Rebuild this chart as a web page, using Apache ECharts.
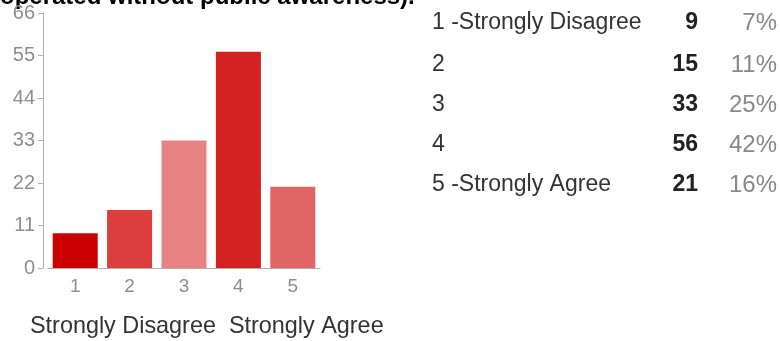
<!DOCTYPE html>
<html><head><meta charset="utf-8">
<script src="https://cdn.jsdelivr.net/npm/echarts@6/dist/echarts.min.js"></script>
<style>html,body{margin:0;padding:0;background:#fff}#c{width:780px;height:341px}</style>
</head><body><div id="c"></div>
<script>
const titleText = 'operated without public awareness).';
const categories = ['1', '2', '3', '4', '5'];
const counts = [9, 15, 33, 56, 21];
const barColors = ['#cc0000', '#dc3d3d', '#e88383', '#d42222', '#e26565'];
const yTicks = [0, 11, 22, 33, 44, 55, 66];
const tableLabels = ['1 -Strongly Disagree', '2', '3', '4', '5 -Strongly Agree'];
const tablePercents = ['7%', '11%', '25%', '42%', '16%'];
const scaleCaption = 'Strongly Disagree  Strongly Agree';

const font = 'Liberation Sans, Arial, sans-serif';
const rowY = [23, 65, 105, 145, 185];
const graphic = [
  { type: 'text', left: 0, top: -15, style: { text: titleText, font: 'bold 24px ' + font, fill: '#000' } },
  { type: 'text', left: 30, top: 315, style: { text: scaleCaption, font: '23.4px ' + font, fill: '#333' } }
];
tableLabels.forEach((t, i) => {
  graphic.push({ type: 'text', x: 432, y: rowY[i], style: { text: t, font: '23px ' + font, fill: '#333', verticalAlign: 'middle', align: 'left' } });
  graphic.push({ type: 'text', x: 698, y: rowY[i], style: { text: String(counts[i]), font: 'bold 23px ' + font, fill: '#222', verticalAlign: 'middle', align: 'right' } });
  graphic.push({ type: 'text', x: 777, y: rowY[i], style: { text: tablePercents[i], font: '24px ' + font, fill: '#888', verticalAlign: 'middle', align: 'right' } });
});

const chart = echarts.init(document.getElementById('c'), null, { renderer: 'canvas' });
chart.setOption({
  animation: false,
  grid: { left: 48, right: 460, top: 13, bottom: 73, containLabel: false },
  xAxis: {
    type: 'category', data: categories,
    axisLine: { lineStyle: { color: '#b0b0b0', width: 1 } },
    axisTick: { alignWithLabel: true, length: 5, lineStyle: { color: '#b0b0b0' } },
    axisLabel: { color: '#8e8e8e', fontSize: 19, fontFamily: font, margin: 9 }
  },
  yAxis: {
    type: 'value', min: yTicks[0], max: yTicks[yTicks.length - 1], interval: yTicks[1] - yTicks[0],
    offset: 5,
    axisLine: { show: true, lineStyle: { color: '#b0b0b0', width: 1 } },
    axisTick: { show: true, length: 5, lineStyle: { color: '#b0b0b0' } },
    splitLine: { show: false },
    axisLabel: { color: '#8e8e8e', fontSize: 20, fontFamily: font, margin: 8 }
  },
  series: [{
    type: 'bar', barWidth: 45,
    data: counts.map((v, i) => ({ value: v, itemStyle: { color: barColors[i] } }))
  }],
  graphic: graphic
});
</script></body></html>
